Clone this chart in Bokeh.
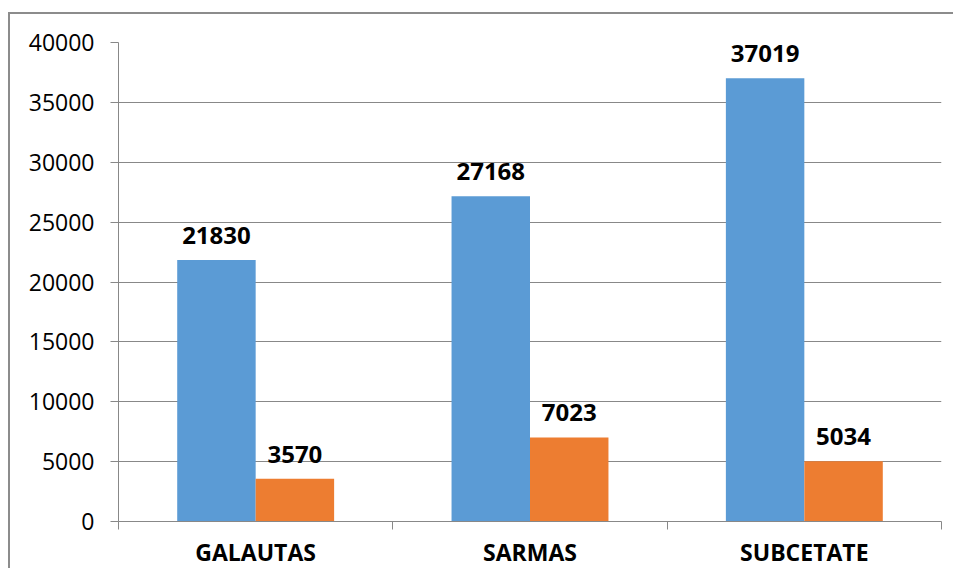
import numpy as np
from bokeh.plotting import figure
from bokeh.models import ColumnDataSource, Range1d, FixedTicker, LabelSet
from bokeh.core.properties import value
from bokeh.embed import file_html
from bokeh.resources import INLINE

categories = ["GALAUTAS", "SARMAS", "SUBCETATE"]
series_a = [21830, 27168, 37019]
series_b = [3570, 7023, 5034]
y_ticks = [0, 5000, 10000, 15000, 20000, 25000, 30000, 35000, 40000]

BLUE = "#5B9BD5"
ORANGE = "#ED7D31"
GRID = "#888888"
FONT = "Open Sans"

idx = np.arange(len(categories))
centers = idx + 0.5
bw = 0.286

src_a = ColumnDataSource(dict(x=centers - bw / 2, top=series_a, lab=[str(v) for v in series_a]))
src_b = ColumnDataSource(dict(x=centers + bw / 2, top=series_b, lab=[str(v) for v in series_b]))

p = figure(width=945, height=556, output_backend="svg", toolbar_location=None,
           x_range=Range1d(0, len(categories)), y_range=Range1d(0, 40000),
           min_border_left=108, min_border_right=14, min_border_top=28, min_border_bottom=48,
           margin=(12, 0, 0, 8),
           styles={"border-top": "2px solid #8c8c8c", "border-left": "2px solid #8c8c8c"})
p.outline_line_color = None
p.background_fill_color = "white"
p.border_fill_color = "white"

p.vbar(x="x", top="top", width=bw, source=src_a, fill_color=BLUE, line_color=None)
p.vbar(x="x", top="top", width=bw, source=src_b, fill_color=ORANGE, line_color=None)

for src in (src_a, src_b):
    p.add_layout(LabelSet(x="x", y="top", text="lab", source=src, text_align="center",
                          text_baseline="bottom", y_offset=16, text_font=value(FONT),
                          text_font_style="bold", text_font_size="24px", text_color="#000000"))

# y axis
p.yaxis.ticker = FixedTicker(ticks=y_ticks)
p.yaxis.axis_line_color = GRID
p.yaxis.major_tick_line_color = GRID
p.yaxis.major_tick_out = 8
p.yaxis.major_tick_in = 0
p.yaxis.minor_tick_line_color = None
p.yaxis.major_label_text_font = FONT
p.yaxis.major_label_text_font_size = "23px"
p.yaxis.major_label_text_color = "#000000"
p.yaxis.major_label_standoff = 16
p.yaxis.formatter.use_scientific = False

# x axis
p.xaxis.ticker = FixedTicker(ticks=list(centers), minor_ticks=list(np.arange(len(categories) + 1)))
p.xaxis.major_label_overrides = {float(c): n for c, n in zip(centers, categories)}
p.xaxis.major_tick_line_color = None
p.xaxis.minor_tick_line_color = GRID
p.xaxis.minor_tick_out = 8
p.xaxis.minor_tick_in = 0
p.xaxis.axis_line_color = GRID
p.xaxis.major_label_text_font = FONT
p.xaxis.major_label_text_font_style = "bold"
p.xaxis.major_label_text_font_size = "23px"
p.xaxis.major_label_text_color = "#000000"
p.xaxis.major_label_standoff = 6

p.xgrid.grid_line_color = None
p.ygrid.grid_line_color = GRID
p.ygrid.grid_line_width = 1

open("out.html", "w").write(file_html(p, INLINE))
